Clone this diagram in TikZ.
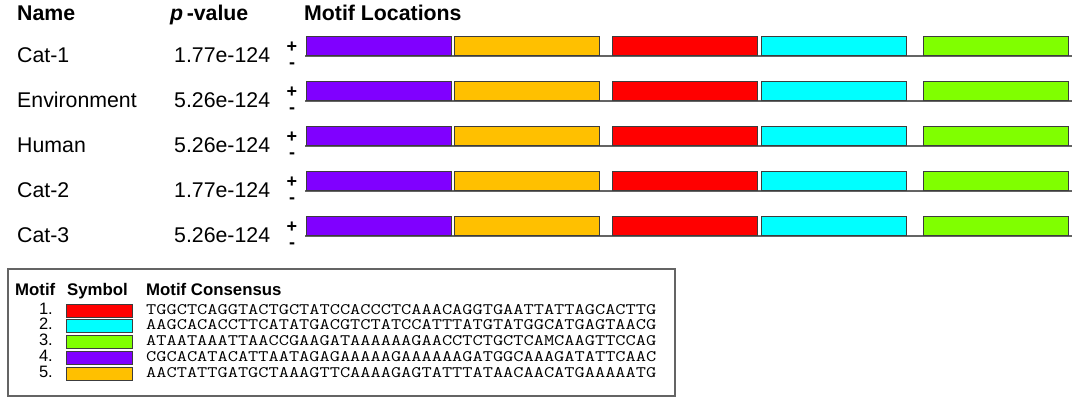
\documentclass[tikz,border=0pt]{standalone}
\usepackage{fontspec}
\setmainfont{Liberation Sans}
\usepackage{tikz}
\usetikzlibrary{positioning}
\definecolor{motifred}{RGB}{255,0,0}
\definecolor{motifcyan}{RGB}{0,255,255}
\definecolor{motifgreen}{RGB}{128,255,0}
\definecolor{motifpurple}{RGB}{128,0,255}
\definecolor{motiforange}{RGB}{255,192,0}
\definecolor{edgegray}{RGB}{60,60,60}
\definecolor{linegray}{RGB}{100,100,100}
\newcommand{\seqtext}[1]{\scalebox{1.238}[1]{#1}}
\tikzset{
  motif-bar/.style={draw=edgegray, line width=1pt, minimum width=145pt,
    minimum height=19pt, inner sep=0pt, anchor=south west},
  motif-swatch/.style={draw=edgegray, line width=1pt, minimum width=66pt,
    minimum height=13pt, inner sep=0pt},
  track-line/.style={draw=linegray, line width=1.5pt},
  head-text/.style={font=\fontsize{21.3}{24}\selectfont\bfseries, anchor=base west, inner sep=0pt},
  row-text/.style={font=\fontsize{21.3}{24}\selectfont, anchor=base west, inner sep=0pt},
  strand-text/.style={font=\fontsize{18}{20}\selectfont\bfseries, anchor=base, inner sep=0pt},
  key-head/.style={font=\fontsize{16.8}{19}\selectfont\bfseries, anchor=base west, inner sep=0pt},
  key-num/.style={font=\fontsize{16.5}{19}\selectfont, anchor=base east, inner sep=0pt},
  key-seq/.style={font=\fontsize{16}{16}\selectfont\ttfamily, anchor=base west, inner sep=0pt},
  key-box/.style={draw=linegray, line width=1.5pt}
}

\begin{document}
\begin{tikzpicture}[x=1pt, y=-1pt]
\useasboundingbox (0,0) rectangle (1084,399);

% Column headers
\node[head-text] (head-name) at (17,20) {Name};
\node[head-text] (head-pval) at (170,20) {\textit{p}\,-value};
\node[head-text] (head-loc) at (304,20) {Motif Locations};

% Sequence rows
\foreach \seqname/\pval [count=\i] in {Cat-1/1.77e-124, Environment/5.26e-124,
    Human/5.26e-124, Cat-2/1.77e-124, Cat-3/5.26e-124} {
  \pgfmathsetmacro\b{56+45*(\i-1)}
  \node[row-text] (name-\i) at (17,{\b+6}) {\seqname};
  \node[row-text] (pval-\i) at (174,{\b+6}) {\pval};
  \node[strand-text] (plus-\i) at (292,{\b-4}) {+};
  \node[strand-text] (minus-\i) at (292,{\b+12}) {-};
  \coordinate (track-start-\i) at (305,\b);
  \coordinate (track-end-\i) at (1072,\b);
  \draw[track-line] (track-start-\i) -- (track-end-\i);
  \foreach \x/\col [count=\j] in {306/motifpurple, 454/motiforange,
      612/motifred, 761/motifcyan, 923/motifgreen}
    \node[motif-bar, fill=\col] (bar-\i-\j) at (\x,\b) {};
}

% Motif key
\node[key-box, minimum width=667pt, minimum height=127pt, anchor=north west] (key) at (7,268) {};
\node[key-head] (key-motif) at (15,295) {Motif};
\node[key-head] (key-symbol) at (67,295) {Symbol};
\node[key-head] (key-consensus) at (146,295) {Motif Consensus};
\foreach \col/\seq [count=\k] in {
    motifred/TGGCTCAGGTACTGCTATCCACCCTCAAACAGGTGAATTATTAGCACTTG,
    motifcyan/AAGCACACCTTCATATGACGTCTATCCATTTATGTATGGCATGAGTAACG,
    motifgreen/ATAATAAATTAACCGAAGATAAAAAAGAACCTCTGCTCAMCAAGTTCCAG,
    motifpurple/CGCACATACATTAATAGAGAAAAAGAAAAAAGATGGCAAAGATATTCAAC,
    motiforange/AACTATTGATGCTAAAGTTCAAAAGAGTATTTATAACAACATGAAAAATG} {
  \pgfmathsetmacro\yb{314+15.75*(\k-1)}
  \node[key-num] (key-num-\k) at (53,\yb) {\k.};
  \node[motif-swatch, fill=\col] (key-swatch-\k) at (99,{\yb-3.5}) {};
  \node[key-seq] (key-seq-\k) at (146,\yb) {\seqtext{\seq}};
}
\end{tikzpicture}
\end{document}
